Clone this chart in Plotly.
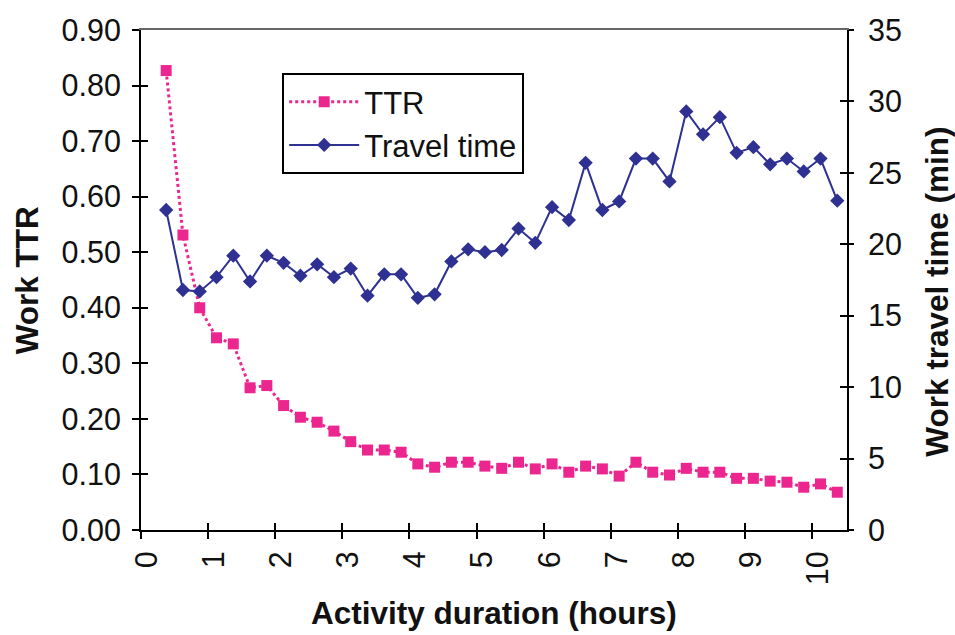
import plotly.graph_objects as go

# Activity duration bins (hour midpoints)
hours = [0.375, 0.625, 0.875, 1.125, 1.375, 1.625, 1.875, 2.125, 2.375, 2.625,
         2.875, 3.125, 3.375, 3.625, 3.875, 4.125, 4.375, 4.625, 4.875, 5.125,
         5.375, 5.625, 5.875, 6.125, 6.375, 6.625, 6.875, 7.125, 7.375, 7.625,
         7.875, 8.125, 8.375, 8.625, 8.875, 9.125, 9.375, 9.625, 9.875, 10.125,
         10.375]

# Work travel-time ratio (left axis)
ttr = [0.827, 0.531, 0.400, 0.346, 0.335, 0.256, 0.260, 0.224, 0.203, 0.194,
       0.178, 0.159, 0.144, 0.144, 0.140, 0.119, 0.113, 0.122, 0.122, 0.115,
       0.111, 0.122, 0.110, 0.119, 0.104, 0.115, 0.110, 0.097, 0.122, 0.104,
       0.099, 0.111, 0.104, 0.104, 0.093, 0.093, 0.088, 0.086, 0.077, 0.083,
       0.068]

# Work travel time in minutes (right axis)
travel = [22.4, 16.8, 16.7, 17.7, 19.2, 17.4, 19.2, 18.7, 17.8, 18.6,
          17.7, 18.3, 16.4, 17.9, 17.9, 16.25, 16.5, 18.8, 19.65, 19.45,
          19.6, 21.1, 20.1, 22.6, 21.7, 25.7, 22.4, 23.0, 26.0, 26.0,
          24.4, 29.3, 27.7, 28.9, 26.4, 26.8, 25.6, 26.0, 25.1, 26.0,
          23.05]

x_ticks = list(range(0, 11))
left_ticks = [0.0, 0.1, 0.2, 0.3, 0.4, 0.5, 0.6, 0.7, 0.8, 0.9]
left_labels = [f"{v:.2f}" for v in left_ticks]
right_ticks = [0, 5, 10, 15, 20, 25, 30, 35]

PINK = "#EC268F"
NAVY = "#2E3192"
FONT = "Arial, Liberation Sans, sans-serif"
TICK_FONT = dict(family=FONT, size=30.5, color="#111111")
TITLE_FONT = dict(family=FONT, size=31.5, color="#111111", weight="bold")

X_RANGE = [0, 10.52]
Y_RANGE = [0, 0.9]
Y2_RANGE = [0, 35]

fig = go.Figure()

fig.add_trace(go.Scatter(
    x=hours, y=ttr, name="TTR", mode="lines+markers",
    line=dict(color=PINK, width=3, dash="dot"),
    marker=dict(symbol="square", size=11, color=PINK),
    xaxis="x", yaxis="y",
))
fig.add_trace(go.Scatter(
    x=hours, y=travel, name="Travel time", mode="lines+markers",
    line=dict(color=NAVY, width=2),
    marker=dict(symbol="diamond", size=11, color=NAVY),
    xaxis="x", yaxis="y2",
))

# empty traces so the overlay axes (inner tick halves, top frame) get drawn
fig.add_trace(go.Scatter(x=[None], y=[None], xaxis="x2", yaxis="y3",
                         showlegend=False, hoverinfo="skip"))
fig.add_trace(go.Scatter(x=[None], y=[None], xaxis="x", yaxis="y4",
                         showlegend=False, hoverinfo="skip"))
fig.add_trace(go.Scatter(x=[None], y=[None], xaxis="x3", yaxis="y",
                         showlegend=False, hoverinfo="skip"))

axis_line = dict(showline=True, linecolor="black", linewidth=2,
                 showgrid=False, zeroline=False)

fig.update_layout(
    width=955, height=635,
    margin=dict(l=141, r=108, t=30, b=105),
    paper_bgcolor="white", plot_bgcolor="white",
    showlegend=True,
    legend=dict(
        x=0.2, y=0.914, xanchor="left", yanchor="top",
        bgcolor="white", bordercolor="black", borderwidth=2,
        font=dict(family=FONT, size=31, color="#111111"),
        tracegroupgap=0, itemwidth=70,
    ),
    xaxis=dict(
        range=X_RANGE, tickvals=x_ticks, ticktext=[str(v) for v in x_ticks],
        ticks="outside", ticklen=7, tickwidth=2, tickcolor="black",
        tickangle=-90, tickfont=TICK_FONT, ticklabelshift=6,
        **axis_line,
    ),
    xaxis2=dict(
        range=X_RANGE, overlaying="x", anchor="y", side="bottom",
        tickvals=x_ticks, ticks="inside", ticklen=7, tickwidth=2,
        tickcolor="black", showticklabels=False, showline=False,
        showgrid=False, zeroline=False,
    ),
    xaxis3=dict(
        range=X_RANGE, overlaying="x", anchor="y", side="top",
        showline=True, linecolor="#666666", linewidth=2, ticks="",
        showticklabels=False, showgrid=False, zeroline=False,
    ),
    yaxis=dict(
        range=Y_RANGE, tickvals=left_ticks, ticktext=left_labels,
        ticks="outside", ticklen=7, tickwidth=2, tickcolor="black",
        tickfont=TICK_FONT, ticklabelstandoff=5,
        **axis_line,
    ),
    yaxis2=dict(
        range=Y2_RANGE, tickvals=right_ticks, overlaying="y", side="right",
        anchor="x", ticks="outside", ticklen=5, tickwidth=2,
        tickcolor="black", tickfont=TICK_FONT, ticklabelstandoff=8,
        **axis_line,
    ),
    yaxis3=dict(
        range=Y_RANGE, tickvals=left_ticks, overlaying="y", side="left",
        anchor="x2", ticks="inside", ticklen=7, tickwidth=2,
        tickcolor="black", showticklabels=False, showline=False,
        showgrid=False, zeroline=False,
    ),
    yaxis4=dict(
        range=Y2_RANGE, tickvals=right_ticks, overlaying="y", side="right",
        anchor="x", ticks="inside", ticklen=7, tickwidth=2,
        tickcolor="black", showticklabels=False, showline=False,
        showgrid=False, zeroline=False,
    ),
    annotations=[
        dict(text="Work TTR", xref="paper", yref="paper",
             x=-0.161, y=0.5, xanchor="center", yanchor="middle",
             textangle=-90, showarrow=False, font=TITLE_FONT),
        dict(text="Work travel time (min)", xref="paper", yref="paper",
             x=1.127, y=0.476, xanchor="center", yanchor="middle",
             textangle=-90, showarrow=False, font=TITLE_FONT),
        dict(text="Activity duration (hours)", xref="paper", yref="paper",
             x=0.5, y=-0.166, xanchor="center", yanchor="middle",
             showarrow=False, font=TITLE_FONT),
    ],
)

fig.write_html("out.html")
